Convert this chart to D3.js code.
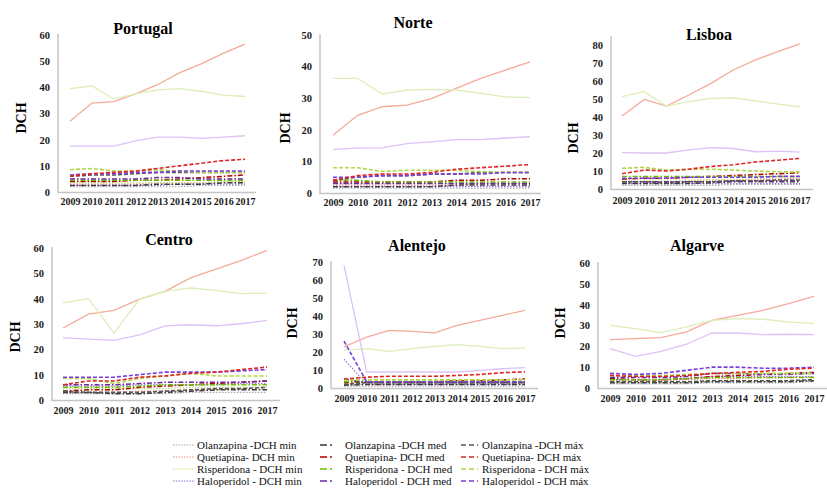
<!DOCTYPE html>
<html>
<head>
<meta charset="utf-8">
<script src="https://cdn.jsdelivr.net/npm/d3@7"></script>
<style>
  body { margin: 0; background: #fff; }
  .tick text { font-weight: bold; fill: #1a1a1a; }
</style>
</head>
<body>
<div id="chart"></div>
<script>
var years = ["2009","2010","2011","2012","2013","2014","2015","2016","2017"];

// series order: Olz min/med/max, Que min/med/max, Ris min/med/max, Hal min/med/max, then three solid lines (no legend)
var seriesNames = [
  "Olanzapina -DCH min", "Olanzapina -DCH med", "Olanzapina -DCH máx",
  "Quetiapina- DCH min", "Quetiapina- DCH med", "Quetiapina- DCH máx",
  "Risperidona - DCH min", "Risperidona - DCH med", "Risperidona - DCH máx",
  "Haloperidol - DCH min", "Haloperidol - DCH med", "Haloperidol - DCH máx",
  "Quetiapina", "Risperidona", "Haloperidol"
];

var portugalValues = [
  [2,2,2,2,2,2,2.5,2.5,2.5],
  [2.5,2.5,2.5,2.5,3,3,3,3.5,3.5],
  [6,6.5,6.5,7,7.5,7.5,7.5,7.5,7.5],
  [3,3,3,3,3.5,3.5,3.5,4,4],
  [4,4,4,4.5,4.5,5,5.5,6,6.5],
  [6,7,7.5,8,9,10,11,12,12.5],
  [3.5,3.5,3.5,3.5,3.5,3.5,3.5,4,4],
  [4.5,4.5,4.5,4.5,4.5,4.5,4.5,4.5,4.5],
  [8.5,9,8,8,8.5,8,7.5,7.5,7.5],
  [2.5,2.5,2.5,2.5,2.5,3,3,3,3],
  [5,5,5,5,5.5,5.5,5,5,5],
  [6.5,7,7,7.5,7.5,8,8,8,8],
  [27,34,34.5,37.5,41,45.5,49,53,56.5],
  [39.5,40.5,35.5,37.5,39,39.5,38.5,37,36.5],
  [17.5,17.5,17.5,19.5,21,21,20.5,21,21.5]
];
var norteValues = [
  [1.5,1.5,1.5,1.5,1.5,1.5,1.5,1.5,1.5],
  [2,2,2,2,2,2.5,2.5,2.5,2.5],
  [4,5,5.5,5.5,6,6,6.5,6.5,6.5],
  [2.5,2.5,2.5,2.5,2.5,2.5,3,3,3],
  [3.5,3.5,3.5,3.5,3.5,4,4,4.5,4.5],
  [4,5.5,6,6,6.5,7.5,8,8.5,9],
  [3,3,3,3,3,3,3,3,3],
  [4,4,3.5,3.5,3.5,3.5,3.5,3.5,3.5],
  [8,8,6.8,7.2,7.2,7.2,6.8,6.5,6.5],
  [2,2,2,2,2,2,2,2,2],
  [3,3,3,3,3,3,3,3,3],
  [5,5,5.5,5.5,6,6,6,6.5,6.5],
  [18.3,24.6,27.3,27.8,29.9,33.1,36.3,38.9,41.5],
  [36.3,36.3,31.3,32.6,32.8,32.6,31.5,30.4,30.2],
  [13.8,14.2,14.3,15.6,16.2,16.9,16.9,17.4,17.8]
];
var lisboaValues = [
  [2,2,2,2,2,2.5,2.5,2.5,2.5],
  [3,3,3,3,3.5,4,4,4,4],
  [4,4,3.5,4,4,4.5,4.5,5,5],
  [4,4,4,4.5,5,5,5.5,5.5,6],
  [5.5,6,6,6.5,7,7.5,8,8.5,9],
  [8.5,10.5,10,11,12.5,13.5,15,16,17],
  [5,5,5,5,5,5,5,5,5],
  [7,7,7,7,7,7,7,7,7],
  [11.5,12,10.5,11,11,10.5,10,9.5,9.5],
  [3,3,3,3,3,3,3,3,3],
  [4,4,4,4,4,4.5,4.5,4.5,4.5],
  [6,6,6,6.5,6.5,6.5,6.5,7,7],
  [40.6,49.8,46.1,52.2,58.7,66.1,71.7,76.3,80.6],
  [51.3,54.1,46.1,48.5,50.4,50.7,48.9,47.2,45.7],
  [20.2,20,20,21.7,23,22.5,20.7,21,20.5]
];
var centroValues = [
  [2.5,2.5,2.5,2.5,2.5,3,3,3,3],
  [3,3,2.5,2.5,3,3.5,4,4,4],
  [3.5,3,3,3,3.5,4,4.5,4.5,5],
  [3,3,3,3.5,3.5,4,4,4.5,5],
  [3.5,4,4,5,5.5,6,6.5,7,7.5],
  [6,7.5,7.5,9,9.5,10.5,11,12,13],
  [4.5,4.5,4.5,4.5,4.5,5,5,5,5],
  [5,5,5,5.5,6,6,6,6,6],
  [8.5,8.5,6.5,8.5,9.5,10.5,9.5,9.5,9.5],
  [5.5,5.5,5.5,6,6,6,6,6.5,6.5],
  [6,6,6,6.5,7,7,7,7,7.5],
  [9,9,9,10,11,11,11,11.5,12],
  [28.4,33.9,35.4,39.8,42.9,48.2,51.7,55.1,59.1],
  [38.3,40,26.4,39.8,42.9,44.2,43.3,42,42.2],
  [24.5,24,23.5,25.7,29.3,29.7,29.3,30.1,31.4]
];
var alentejoValues = [
  [1,1,1,1,1,1,1,1,1],
  [1.5,2,2,2,2,2,2,2,2],
  [2,3,3,3,3,3,3,3,3],
  [2,2,2,2,2,2,2.5,2.5,2.5],
  [3,3.5,3.5,3.5,3.5,4,4,4.5,5],
  [5,6,6.5,6.5,6.5,7,7.5,8.5,9],
  [2,2.5,2.5,2.5,2.5,2.5,2.5,2.5,2.5],
  [3.5,3.5,3.5,3.5,3.5,3.5,3.5,3.5,3.5],
  [4.5,4.5,4.5,4.5,4.5,4.5,4.5,4.5,4.5],
  [16,2,2,2,2,2,2,2,2],
  [5,3,3,3,3,3,3,3,3],
  [26,3.5,3.5,3.5,3.5,3.5,3.5,3.5,3.5],
  [22.8,28.3,32,31.5,30.6,34.8,37.6,40.4,43.1],
  [20.9,21.9,20.4,21.9,23.1,24.1,23.1,21.9,22.2],
  [68.1,8.9,8.9,8.9,8.9,8.9,9.8,10.7,11.3]
];
var algarveValues = [
  [2,2,2,2,2.5,2.5,2.5,2.5,3],
  [2.5,2.5,2.5,2.5,3,3,3,3,3.5],
  [3,3,3,3,3.5,3.5,3.5,3.5,4],
  [3.5,3.5,3.5,4,4.5,4.5,5,5,5.5],
  [4.5,4,4,4.5,5.5,6,6.5,7,7.5],
  [6,5.5,5.5,6,7,7.5,8,9,9.5],
  [3,3,3,3,3.5,3.5,3.5,3.5,3.5],
  [4,4,4,4.5,5,5,5,5,5],
  [6,6,6,6.5,7,7,7,7,7],
  [4,4,4,4.5,5.5,5.5,5.5,5.5,5.5],
  [5,5,5,5.5,7,7,6.5,6.5,7],
  [7,6.5,7,8.5,10,10,9.5,9.5,10],
  [23.2,23.7,24.2,26.9,32.5,34.9,37.3,40.5,44],
  [30.1,28.5,26.6,29.3,32.5,33.3,33,31.7,30.9],
  [18.9,15.2,17.6,21,26.4,26.4,25.6,25.8,25.6]
];

var regionNames = ["Portugal","Norte","Lisboa","Centro","Alentejo","Algarve"];
var regionValues = [portugalValues, norteValues, lisboaValues, centroValues, alentejoValues, algarveValues];
var yMaxes = [60, 50, 80, 60, 70, 60];

// styles per series
var colors = ["#a8a8a8","#3a3a3a","#555555",
              "#f08a8a","#b00000","#e02424",
              "#bfe27a","#6cbf00","#b0d848",
              "#9a70e0","#6a2aa0","#7a3ee0",
              "#f6aa9c","#dcefb8","#dcc2f6"];
var dashes = ["1.5,1.5","5,2,1.5,2","4,2"];
var widths = [1.2, 1.5, 1.6];

var serif = "'Liberation Serif', 'Times New Roman', Times, serif";

// panel layout
var panels = [
  {ax: 58,  x0: 70,  x1: 245, xe: 256, y0: 192, yt: 35,  top: 34,  tx: 143, ty: 28,  dx: 21,  dy: 118, lx: 204},
  {ax: 320, x0: 333, x1: 530, xe: 541, y0: 193, yt: 35,  top: 34,  tx: 413, ty: 22,  dx: 285, dy: 128, lx: 205},
  {ax: 611, x0: 622, x1: 800, xe: 813, y0: 189, yt: 45,  top: 36,  tx: 709, ty: 34,  dx: 573, dy: 138, lx: 203},
  {ax: 52,  x0: 63,  x1: 267, xe: 280, y0: 400, yt: 248, top: 247, tx: 169, ty: 239, dx: 15,  dy: 337, lx: 413},
  {ax: 331, x0: 344, x1: 525, xe: 538, y0: 388, yt: 262, top: 261, tx: 417, ty: 245, dx: 292, dy: 323, lx: 401},
  {ax: 598, x0: 610, x1: 814, xe: 827, y0: 388, yt: 263, top: 262, tx: 697, ty: 245, dx: 560, dy: 323, lx: 401}
];

var svg = d3.select("#chart").append("svg")
    .attr("width", 827)
    .attr("height", 492)
    .style("display", "block");

regionNames.forEach(function(name, r) {
  var p = panels[r];
  var vals = regionValues[r];

  var x = d3.scalePoint().domain(years).range([p.x0, p.x1]);
  var y = d3.scaleLinear().domain([0, yMaxes[r]]).range([p.y0, p.yt]);

  var g = svg.append("g").attr("class", "panel");

  // axis lines
  g.append("line").attr("x1", p.ax).attr("x2", p.ax).attr("y1", p.top).attr("y2", p.y0 + 1)
      .attr("stroke", "#c4c4c4").attr("stroke-width", 1.5);
  g.append("line").attr("x1", p.ax).attr("x2", p.xe).attr("y1", p.y0 + 0.5).attr("y2", p.y0 + 0.5)
      .attr("stroke", "#c4c4c4").attr("stroke-width", 1.5);

  var yAxis = d3.axisLeft(y).ticks(yMaxes[r] / 10).tickSize(0).tickPadding(8);
  g.append("g").attr("transform", "translate(" + p.ax + ",0)")
      .call(yAxis)
      .attr("font-family", serif)
      .call(function(a) { a.select(".domain").remove(); })
      .selectAll("text").attr("font-size", 10.5);

  var xAxis = d3.axisBottom(x).tickSize(0).tickPadding(0);
  g.append("g").attr("transform", "translate(0," + (p.lx - 6) + ")")
      .call(xAxis)
      .attr("font-family", serif)
      .call(function(a) { a.select(".domain").remove(); })
      .selectAll("text").attr("font-size", 10);

  var line = d3.line()
      .x(function(d, i) { return x(years[i]); })
      .y(function(d) { return y(d); });

  // solid lines first, then the dashed series on top
  var order = [12, 13, 14, 0, 3, 6, 9, 1, 4, 7, 10, 2, 8, 11, 5];
  order.forEach(function(s) {
    var solid = s >= 12;
    g.append("path")
        .datum(vals[s])
        .attr("d", line)
        .attr("fill", "none")
        .attr("stroke", colors[s])
        .attr("stroke-width", solid ? 1.3 : widths[s % 3])
        .attr("stroke-dasharray", solid ? null : dashes[s % 3]);
  });

  g.append("text")
      .attr("x", p.tx).attr("y", p.ty)
      .attr("text-anchor", "middle").attr("dy", "0.35em")
      .attr("font-family", serif)
      .style("font-size", "16px").style("font-weight", "bold")
      .text(name);

  g.append("text")
      .attr("transform", "translate(" + p.dx + "," + p.dy + ") rotate(-90)")
      .attr("text-anchor", "middle").attr("dy", "0.35em")
      .attr("font-family", serif)
      .style("font-size", "14px").style("font-weight", "bold")
      .text("DCH");
});

// legend
var legendSym = [[173, 195], [320, 338], [461, 478]];
var legendText = [197, 345, 482];
var legend = svg.append("g")
    .attr("font-family", serif)
    .selectAll("g")
    .data(seriesNames.slice(0, 12))
    .enter().append("g")
    .attr("transform", function(d, i) {
      return "translate(0," + (445 + Math.floor(i / 3) * 12) + ")";
    });

legend.append("line")
    .attr("x1", function(d, i) { return legendSym[i % 3][0]; })
    .attr("x2", function(d, i) { return legendSym[i % 3][1]; })
    .attr("y1", 0).attr("y2", 0)
    .attr("stroke", function(d, i) { return colors[i]; })
    .attr("stroke-width", function(d, i) { return widths[i % 3]; })
    .attr("stroke-dasharray", function(d, i) { return i % 3 == 1 ? "7,3,2,9" : (i % 3 == 2 ? "5,3" : "1.5,1.2"); });

legend.append("text")
    .attr("x", function(d, i) { return legendText[i % 3]; })
    .attr("y", 0).attr("dy", "0.35em")
    .style("font-size", "11px")
    .style("fill", "#111")
    .text(function(d) { return d; });
</script>
</body>
</html>
